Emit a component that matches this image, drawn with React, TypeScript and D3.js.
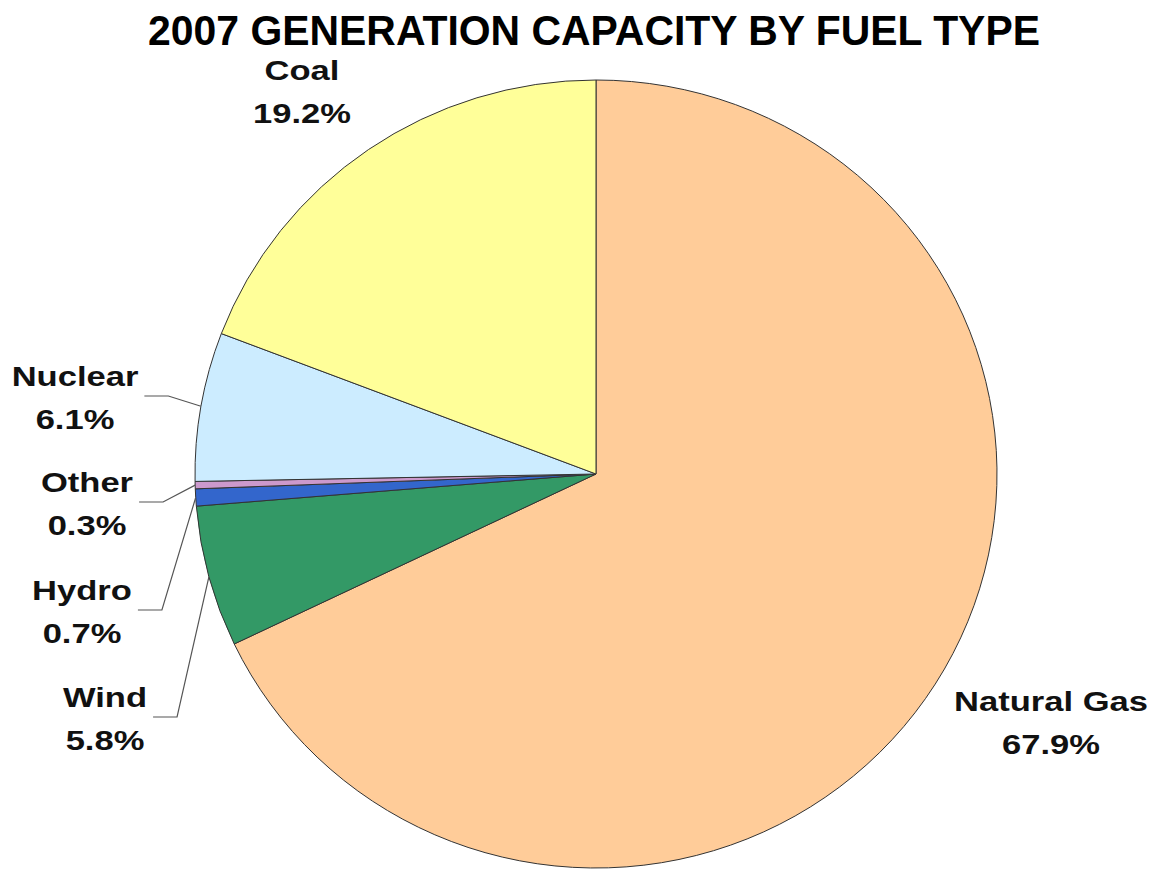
import React, { useEffect, useRef } from 'react';
import * as d3 from 'd3';

// slice order: clockwise from 12 o'clock
const fuels = ['Natural Gas', 'Wind', 'Hydro', 'Other', 'Nuclear', 'Coal'];
const shares = [67.9, 5.8, 0.7, 0.3, 6.1, 19.2];
const colors = ['#FFCC99', '#339966', '#3366CC', '#CC99CC', '#CCECFF', '#FFFF99'];

const title = '2007 GENERATION CAPACITY BY FUEL TYPE';

// where the text labels sit (centre x, baseline of first line), and whether a leader line is drawn
const labelSpots: Record<string, { x: number; y: number; leader: boolean }> = {
  'Natural Gas': { x: 1051, y: 711, leader: false },
  Wind: { x: 105, y: 707, leader: true },
  Hydro: { x: 82, y: 600, leader: true },
  Other: { x: 87, y: 492, leader: true },
  Nuclear: { x: 75, y: 386, leader: true },
  Coal: { x: 302, y: 80, leader: false },
};

const W = 1156;
const H = 871;
const stretch = 1.28;

export default function App() {
  const ref = useRef<SVGSVGElement>(null);

  useEffect(() => {
    const svg = d3.select(ref.current);
    svg.selectAll('*').remove();

    const cx = 596;
    const cy = 474;
    const ry = 394;
    const rx = 401;

    //title
    svg.append('text')
      .attr('x', 148)
      .attr('y', 45)
      .attr('textLength', 892)
      .attr('lengthAdjust', 'spacingAndGlyphs')
      .style('font-family', '"Liberation Sans", Arial, sans-serif')
      .style('font-weight', 'bold')
      .style('font-size', '43px')
      .attr('fill', '#000')
      .text(title);

    const data = fuels.map((f, i) => ({ name: f, value: shares[i], color: colors[i] }));
    const pie = d3.pie<any>().value(d => d.value).sort(null);
    const arcs = pie(data);
    const arc = d3.arc<any>().innerRadius(0).outerRadius(ry);

    const g = svg.append('g')
      .attr('transform', `translate(${cx},${cy}) scale(${rx / ry},1)`);

    g.selectAll('path')
      .data(arcs)
      .enter()
      .append('path')
      .attr('d', arc)
      .attr('fill', d => d.data.color)
      .attr('stroke', '#333')
      .attr('stroke-width', 1)
      .attr('vector-effect', 'non-scaling-stroke');

    //labels
    arcs.forEach(a => {
      const spot = labelSpots[a.data.name];
      const lab = svg.append('g')
        .attr('transform', `translate(${spot.x},${spot.y}) scale(${stretch},1)`)
        .style('font-family', '"Liberation Sans", Arial, sans-serif')
        .style('font-weight', 'bold')
        .style('font-size', '27px')
        .attr('text-anchor', 'middle')
        .attr('fill', '#111');
      const nameText = lab.append('text').attr('x', 0).attr('y', 0).text(a.data.name);
      lab.append('text').attr('x', 0).attr('y', 43).text(a.data.value.toFixed(1) + '%');

      if (spot.leader) {
        const mid = (a.startAngle + a.endAngle) / 2;
        const px = cx + Math.sin(mid) * rx;
        const py = cy - Math.cos(mid) * ry;
        const tw = (nameText.node() as SVGTextElement).getComputedTextLength() * stretch;
        const ly = spot.y + 10;
        const x0 = spot.x + tw / 2 + 6;
        svg.append('polyline')
          .attr('points', `${x0},${ly} ${x0 + 24},${ly} ${px},${py}`)
          .attr('fill', 'none')
          .attr('stroke', '#555')
          .attr('stroke-width', 1.2);
      }
    });
  }, []);

  return (
    <svg ref={ref} width={W} height={H}
      style={{ position: 'absolute', left: 0, top: 0, background: '#fff' }} />
  );
}
